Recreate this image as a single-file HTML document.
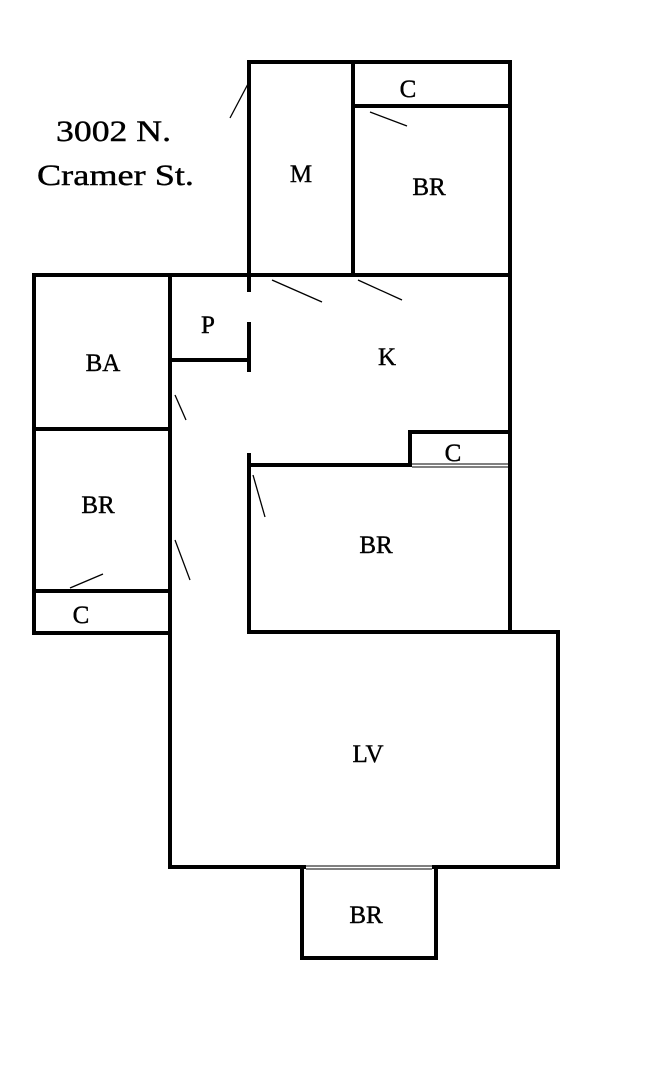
<!DOCTYPE html>
<html><head><meta charset="utf-8"><style>
html,body{margin:0;padding:0;background:#fff;}
svg{display:block;}
text{font-family:"Liberation Serif",serif;fill:#000;stroke:#000;stroke-width:0.4;}
</style></head><body>
<svg width="656" height="1080" viewBox="0 0 656 1080" xmlns="http://www.w3.org/2000/svg">
<g stroke="#000" stroke-width="4" fill="none" stroke-linecap="square">
<path d="M249 62 H510 V632"/>
<line x1="249" y1="62" x2="249" y2="290"/>
<line x1="353" y1="62" x2="353" y2="275"/>
<line x1="353" y1="106" x2="510" y2="106"/>
<line x1="34" y1="275" x2="510" y2="275"/>
<path d="M34 275 V633 H170"/>
<line x1="34" y1="429" x2="170" y2="429"/>
<line x1="34" y1="591" x2="170" y2="591"/>
<line x1="170" y1="275" x2="170" y2="867"/>
<line x1="170" y1="360" x2="249" y2="360"/>
<line x1="249" y1="324" x2="249" y2="370"/>
<line x1="249" y1="455" x2="249" y2="632"/>
<line x1="249" y1="465" x2="510" y2="465"/>
<path d="M410 465 V432 H510"/>
<path d="M249 632 H558 V867 H170"/>
<path d="M302 867 V958 H436 V867"/>
</g>
<g stroke="#000" stroke-width="1.3">
<line x1="230" y1="118" x2="249" y2="82"/>
<line x1="370" y1="112" x2="407" y2="126"/>
<line x1="272" y1="280" x2="322" y2="302"/>
<line x1="358" y1="280" x2="402" y2="300"/>
<line x1="175" y1="395" x2="186" y2="420"/>
<line x1="253" y1="475" x2="265" y2="517"/>
<line x1="175" y1="540" x2="190" y2="580"/>
<line x1="70" y1="588" x2="103" y2="574"/>
</g>
<g fill="#fff" stroke="none">
<rect x="306" y="865" width="126" height="4"/>
<rect x="412" y="463" width="96" height="4"/>
</g>
<g stroke="#000" stroke-width="1">
<line x1="306" y1="866" x2="432" y2="866"/>
<line x1="306" y1="869" x2="432" y2="869"/>
<line x1="412" y1="464" x2="508" y2="464"/>
<line x1="412" y1="467" x2="508" y2="467"/>
</g>
<text x="56" y="141" font-size="30" textLength="115" lengthAdjust="spacingAndGlyphs">3002 N.</text>
<text x="37" y="185" font-size="30" textLength="157" lengthAdjust="spacingAndGlyphs">Cramer St.</text>
<g font-size="25" text-anchor="middle">
<text x="301" y="182">M</text>
<text x="408" y="97">C</text>
<text x="429" y="195">BR</text>
<text x="208" y="333">P</text>
<text x="387" y="365">K</text>
<text x="103" y="371">BA</text>
<text x="98" y="513">BR</text>
<text x="81" y="623">C</text>
<text x="453" y="461">C</text>
<text x="376" y="553">BR</text>
<text x="368" y="762">LV</text>
<text x="366" y="923">BR</text>
</g>
</svg>
</body></html>
